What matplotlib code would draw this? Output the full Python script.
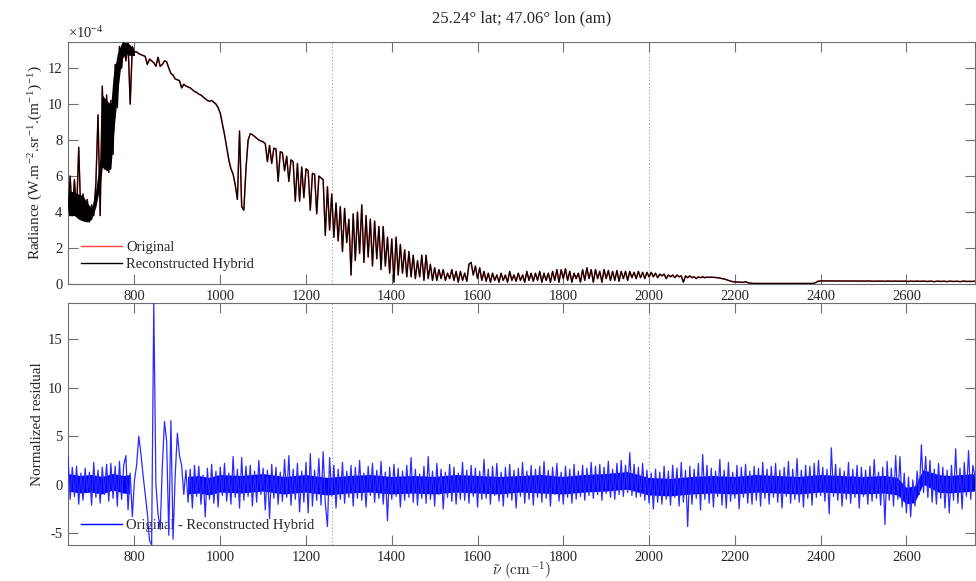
import numpy as np
import matplotlib.pyplot as plt

plt.rcParams["font.family"] = ["Liberation Serif", "DejaVu Serif"]
plt.rcParams["mathtext.fontset"] = "cm"
plt.rcParams["axes.unicode_minus"] = False

title = "25.24° lat; 47.06° lon (am)"
wn_start = 645
wn_step = 5
xticks = [800, 1000, 1200, 1400, 1600, 1800, 2000, 2200, 2400, 2600]
band_edges = [1260, 2000]

# radiance (x1e-4 W.m-2.sr-1.(m-1)-1), read every 5 cm-1 from 645 cm-1
radiance = [
    4.0, 6.0, 3.8, 5.8, 3.9, 7.6, 3.7, 5.0, 3.6, 4.7, 3.45, 4.4, 3.8, 5.6, 9.4, 3.8, 11.0, 6.4, 10.5, 6.2,
    10.2, 7.2, 12.2, 9.8, 13.2, 12.0, 13.45, 12.4, 13.4, 10.0, 13.2, 12.9, 12.9, 12.8, 12.75, 12.7, 12.65, 12.2, 12.5, 12.4,
    12.3, 12.1, 12.6, 12.1, 12.2, 12.4, 12.35, 12.0, 11.7, 11.6, 11.4, 11.35, 11.3, 10.9, 11.1, 11.0, 10.95, 10.9, 10.8, 10.7,
    10.65, 10.55, 10.5, 10.4, 10.3, 10.2, 10.15, 10.2, 10.1, 10.0, 9.8, 9.5, 8.9, 8.3, 7.6, 6.9, 6.4, 6.1, 5.5, 4.7,
    8.5, 4.3, 4.1, 6.4, 8.0, 8.35, 8.3, 8.2, 8.1, 8.0, 7.95, 7.9, 7.8, 6.8, 7.7, 6.7, 7.55, 7.5, 5.7, 7.35,
    7.3, 6.3, 7.1, 5.7, 6.9, 6.8, 4.6, 6.7, 4.6, 6.5, 4.8, 6.4, 6.3, 4.1, 6.15, 6.1, 3.9, 6.0, 5.9, 5.8,
    2.7, 5.4, 3.0, 5.0, 2.6, 4.5, 2.4, 4.3, 1.8, 4.2, 2.3, 3.6, 0.5, 3.9, 1.3, 4.0, 1.7, 4.4, 1.2, 3.8,
    1.5, 3.6, 1.0, 3.5, 1.4, 3.2, 0.8, 3.2, 1.0, 2.6, 0.6, 2.5, 0.1, 2.6, 0.5, 2.2, 0.6, 1.9, 0.4, 1.8,
    0.4, 1.6, 0.3, 1.3, 0.4, 1.6, 0.2, 1.6, 0.3, 1.1, 0.2, 0.9, 0.2, 0.8, 0.3, 0.8, 0.2, 0.6, 0.3, 0.8,
    0.2, 0.7, 0.1, 0.7, 0.2, 0.6, 0.15, 1.1, 1.2, 0.5, 1.0, 0.3, 0.9, 0.2, 0.7, 0.15, 0.6, 0.1, 0.6, 0.2,
    0.5, 0.1, 0.6, 0.2, 0.5, 0.1, 0.7, 0.2, 0.5, 0.15, 0.6, 0.2, 0.5, 0.1, 0.7, 0.2, 0.6, 0.15, 0.6, 0.2,
    0.7, 0.1, 0.6, 0.2, 0.6, 0.1, 0.7, 0.2, 0.8, 0.1, 0.8, 0.3, 0.85, 0.2, 0.7, 0.1, 0.6, 0.3, 0.6, 0.1,
    0.8, 0.2, 0.9, 0.3, 0.8, 0.1, 0.8, 0.3, 0.7, 0.1, 0.8, 0.3, 0.75, 0.2, 0.7, 0.2, 0.75, 0.15, 0.7, 0.3,
    0.7, 0.2, 0.7, 0.35, 0.65, 0.3, 0.7, 0.35, 0.65, 0.3, 0.65, 0.4, 0.65, 0.4, 0.6, 0.35, 0.55, 0.45, 0.55, 0.3,
    0.5, 0.4, 0.5, 0.35, 0.5, 0.4, 0.45, 0.1, 0.45, 0.35, 0.45, 0.35, 0.4, 0.3, 0.4, 0.35, 0.4, 0.35, 0.38, 0.37,
    0.38, 0.37, 0.36, 0.35, 0.33, 0.3, 0.28, 0.24, 0.2, 0.16, 0.13, 0.12, 0.11, 0.1, 0.1, 0.09, 0.13, 0.07, 0.05, 0.04,
    0.03, 0.03, 0.03, 0.03, 0.03, 0.03, 0.03, 0.03, 0.03, 0.03, 0.03, 0.03, 0.03, 0.03, 0.03, 0.03, 0.03, 0.03, 0.03, 0.03,
    0.03, 0.03, 0.03, 0.03, 0.03, 0.03, 0.03, 0.03, 0.04, 0.1, 0.16, 0.17, 0.17, 0.17, 0.17, 0.17, 0.17, 0.17, 0.16, 0.17,
    0.17, 0.16, 0.17, 0.17, 0.16, 0.17, 0.16, 0.17, 0.16, 0.16, 0.17, 0.16, 0.16, 0.17, 0.16, 0.16, 0.15, 0.16, 0.16, 0.16,
    0.16, 0.15, 0.16, 0.16, 0.15, 0.16, 0.16, 0.15, 0.16, 0.15, 0.16, 0.15, 0.14, 0.16, 0.15, 0.15, 0.16, 0.15, 0.15, 0.16,
    0.15, 0.14, 0.16, 0.15, 0.13, 0.15, 0.16, 0.14, 0.15, 0.15, 0.13, 0.16, 0.15, 0.14, 0.15, 0.15, 0.13, 0.15, 0.16, 0.14,
    0.15, 0.14, 0.15, 0.15,
]

# dense CO2 band (645-800 cm-1): lower/upper edge of the solid black region
band_wn = [645, 660, 670, 680, 690, 700, 710, 720, 725, 735, 745, 750, 760, 770, 780, 790, 800]
band_lo = [3.8, 3.8, 3.6, 3.5, 3.45, 3.6, 4.3, 5.5, 6.5, 6.3, 6.4, 8.0, 10.5, 12.5, 12.8, 12.7, 12.7]
band_hi = [5.2, 5.1, 5.0, 4.9, 4.5, 4.2, 5.3, 7.0, 10.5, 10.2, 10.0, 11.5, 12.8, 13.4, 13.45, 13.3, 12.9]

# normalized residual (original - reconstructed), same 5 cm-1 grid
residual = [
    2.9, -1.5, 1.8, -1.2, 1.9, -2.0, 1.2, -1.6, 1.7, -0.8, 1.3, -2.1, 2.3, -1.3, 1.5, -1.9, 1.8, -1.0, 2.1, -1.7,
    2.2, -1.4, 1.9, -2.2, 2.4, -1.5, 2.0, 3.0, -2.6, 1.2, -3.3, 0.5, 2.0, 5.0, 3.2, 1.0, -1.0, -2.9, -5.7, -6.2,
    18.7, 0.0, -3.0, -4.6, 2.0, 6.5, 4.5, -5.2, 6.6, -5.6, 1.0, 5.3, 3.0, 2.0, -1.0, 1.5, -1.8, 1.6, -2.4, 2.0,
    -1.2, 1.9, -2.0, 1.0, -3.3, 1.7, -1.5, 2.1, -1.9, 1.4, -2.3, 1.8, -1.1, 2.2, -1.7, 1.2, -2.0, 2.9, -1.3, 1.6,
    -2.4, 2.8, -1.6, 1.9, -1.2, 2.0, -2.2, 1.4, -1.8, 2.5, -1.0, 1.7, -2.6, 1.5, -3.5, 2.1, -1.4, 1.8, -2.0, 1.3,
    -1.7, 2.6, -1.3, 3.0, -2.1, 1.6, -1.5, 2.2, -2.8, 1.4, -1.8, 2.3, -2.9, 3.2, -2.2, 1.5, -1.6, 2.7, -2.1, 3.4,
    -1.9, -4.3, 2.8, -1.2, 2.0, -2.4, 1.6, -1.5, 2.3, -1.9, 1.4, -1.3, 2.0, -2.2, 1.8, -1.4, 2.5, -1.6, 1.2, -2.3,
    1.9, -1.1, 2.2, -1.8, 1.5, -1.4, 2.4, -2.0, 1.3, -3.7, 1.8, -1.5, 2.1, -1.2, 1.7, -2.3, 1.4, -1.6, 2.0, -1.3,
    2.8, -1.8, 1.6, -2.1, 1.1, -1.4, 1.9, -1.9, 2.9, -1.5, 1.4, -2.2, 2.2, -1.0, 1.6, -2.5, 1.3, -1.3, 2.1, -1.7,
    1.8, -2.0, 1.2, -1.5, 2.3, -1.6, 1.5, -1.9, 2.0, -1.2, 1.7, -2.3, 1.4, -1.5, 2.6, -1.4, 1.6, -2.0, 1.9, -1.1,
    2.2, -1.7, 1.3, -2.2, 1.8, -1.3, 2.1, -1.6, 1.5, -2.4, 1.7, -1.2, 2.3, -1.9, 1.4, -1.5, 2.0, -2.1, 1.6, -1.3,
    1.9, -1.8, 2.4, -1.4, 1.5, -2.2, 1.8, -1.0, 2.2, -1.7, 1.3, -2.0, 1.9, -1.3, 1.6, -1.9, 2.1, -1.5, 1.4, -1.2,
    2.0, -1.6, 1.7, -1.1, 2.3, -1.4, 1.9, -1.0, 2.1, -1.6, 1.8, -0.9, 2.4, -1.3, 1.6, -1.5, 2.2, -1.0, 2.5, -1.2,
    2.0, -0.8, 3.3, -1.1, 2.1, -1.3, 1.8, -1.2, 2.2, -1.6, 1.5, -1.9, 1.2, -2.5, 1.6, -1.8, 1.3, -2.0, 1.9, -1.5,
    1.4, -2.1, 2.0, -1.3, 1.7, -2.2, 2.3, -1.8, 1.5, -4.3, 1.9, -2.0, 1.6, -1.4, 2.2, -2.6, 3.1, -1.5, 2.0, -1.9,
    1.7, -2.3, 1.4, -1.2, 2.6, -2.1, 1.5, -2.4, 2.3, -1.7, 1.3, -1.4, 2.0, -2.5, 1.8, -1.3, 2.1, -1.9, 1.4, -2.0,
    1.9, -1.6, 1.7, -2.2, 2.3, -1.4, 1.6, -2.0, 1.9, -1.3, 2.2, -1.8, 1.5, -2.4, 1.8, -1.2, 2.4, -1.9, 1.6, -1.5,
    2.7, -1.8, 1.5, -2.3, 2.0, -1.4, 1.9, -2.1, 2.2, -1.3, 2.5, -1.1, 1.8, -1.7, 1.6, -3.0, 3.8, -1.2, 2.1, -1.6,
    1.7, -2.2, 1.4, -1.5, 2.3, -1.9, 1.6, -1.3, 2.0, -2.4, 1.8, -1.2, 1.5, -2.0, 1.9, -1.7, 2.6, -1.4, 1.3, -2.1,
    1.8, -4.1, 2.4, -1.6, 1.7, -2.2, 3.0, -1.5, 2.9, -2.3, 1.2, -2.9, 0.8, -3.3, 0.5, -2.2, 1.4, -1.0, 4.1, -0.8,
    2.9, -1.3, 2.5, -1.8, 1.6, -2.0, 2.2, -1.4, 1.8, -2.4, 1.5, -2.9, 2.0, -1.6, 3.7, -1.9, 1.7, -2.5, 2.3, -1.2,
    3.5, -1.5, 2.0, 0.8,
]

# darkest core of the residual trace (where the blue is solid); none at 800-900
core_wn = [645, 675, 700, 725, 750, 775, 790, 800, 905, 925, 950, 975, 1000,
           1050, 1100, 1150, 1200, 1250, 1300, 1350, 1400, 1450, 1500, 1550, 1600,
           1650, 1700, 1750, 1800, 1850, 1900, 1950, 2000, 2050, 2100, 2150, 2200, 2250, 2300,
           2350, 2400, 2450, 2500, 2550, 2580, 2600, 2620, 2640, 2675, 2700, 2730, 2760]
core_hi = [1.1, 0.9, 1.0, 0.8, 1.1, 0.9, 1.0, 0.0, 0.0, 0.8, 0.9, 0.7, 1.0,
           0.9, 1.1, 0.8, 1.0, 0.7, 0.9, 1.0, 0.8, 0.9, 0.8, 1.0, 0.9,
           0.8, 0.9, 1.0, 0.8, 1.0, 1.1, 1.3, 0.7, 0.6, 0.8, 0.9, 0.8, 1.0, 0.9,
           0.8, 1.0, 0.9, 0.8, 0.9, 0.7, -0.3, -0.2, 1.5, 1.0, 0.9, 1.0, 1.1]
core_lo = [-0.7, -0.9, -0.8, -1.0, -0.6, -0.9, -1.0, 0.0, 0.0, -1.0, -0.9, -1.1, -0.8,
           -0.9, -0.7, -1.0, -0.8, -1.1, -0.9, -0.8, -1.0, -0.9, -1.0, -0.8, -0.9,
           -1.0, -0.8, -0.9, -1.0, -0.8, -0.7, -0.5, -1.1, -1.2, -1.0, -0.9, -1.0, -0.8, -0.9,
           -1.0, -0.8, -0.9, -1.0, -0.9, -1.1, -2.0, -1.9, 0.0, -0.8, -0.9, -0.8, -0.7]

wn = wn_start + wn_step * np.arange(len(radiance))
wn_res = wn_start + wn_step * np.arange(len(residual))
core_mask = [h > l for h, l in zip(core_hi, core_lo)]

label_color = "#262626"
spine_color = "#6e6e6e"

fig = plt.figure(figsize=(9.76, 5.81), dpi=100)
ax1 = fig.add_axes([68 / 976, 1 - 284 / 581, 907 / 976, 242 / 581])
ax2 = fig.add_axes([68 / 976, 1 - 545 / 581, 907 / 976, 242 / 581])

ax1.plot(wn, radiance, color="#ff4040", linewidth=1.1, label="Original")
ax1.fill_between(band_wn, band_lo, band_hi, color="black", linewidth=0, zorder=2.5)
ax1.plot(wn, radiance, color="black", linewidth=0.9, label="Reconstructed Hybrid", zorder=2.6)

ax2.fill_between(core_wn, core_lo, core_hi, where=core_mask, color="#0000ff", linewidth=0, zorder=2.5)
ax2.plot(wn_res, residual, color="#2a2aff", linewidth=0.9, label="Original - Reconstructed Hybrid", zorder=3)

for ax in (ax1, ax2):
    for x0 in band_edges:
        ax.axvline(x0, color="#9a9a9a", linestyle=(0, (1, 2)), linewidth=0.8, zorder=1)
    ax.set_xlim(wn_start, 2760)
    ax.set_xticks(xticks)
    ax.tick_params(direction="in", top=True, right=True, length=7, width=0.8,
                   color=spine_color, labelcolor=label_color, labelsize=10.5, pad=4)
    for s in ax.spines.values():
        s.set_color(spine_color)
        s.set_linewidth(0.8)

ax1.set_ylim(0, max(radiance))
ax1.set_yticks([0, 2, 4, 6, 8, 10, 12])
ax1.set_ylabel(r"Radiance (W.m$^{\mathregular{-2}}$.sr$^{\mathregular{-1}}$.(m$^{\mathregular{-1}}$)$^{\mathregular{-1}}$)",
               fontsize=11, color=label_color, labelpad=2)
ax1.text(0.0, 1.005, r"$\mathregular{\times 10^{-4}}$", transform=ax1.transAxes,
         fontsize=10.5, color=label_color, va="bottom", ha="left")
ax1.set_title(title, fontsize=12, color=label_color, pad=14)
leg1 = ax1.legend(loc="lower left", frameon=False, fontsize=10.5, handlelength=2.8,
                  handletextpad=0.3, borderaxespad=0.5, labelspacing=0.25)
for t in leg1.get_texts():
    t.set_color(label_color)
for h in leg1.get_lines():
    h.set_linewidth(1.0)

ax2.set_ylim(min(residual), max(residual))
ax2.set_yticks([-5, 0, 5, 10, 15])
ax2.set_ylabel("Normalized residual", fontsize=11, color=label_color, labelpad=3)
ax2.set_xlabel(r"$\tilde{\nu}\ (\mathrm{cm}^{-1})$", fontsize=11, color=label_color, labelpad=-3)
leg2 = ax2.legend(loc="lower left", frameon=False, fontsize=10.5, handlelength=2.8,
                  handletextpad=0.3, borderaxespad=0.5)
leg2.set_zorder(2)
for t in leg2.get_texts():
    t.set_color(label_color)
for h in leg2.get_lines():
    h.set_color("#0000ff")
    h.set_linewidth(1.0)

fig.savefig("out.png", dpi=100)
